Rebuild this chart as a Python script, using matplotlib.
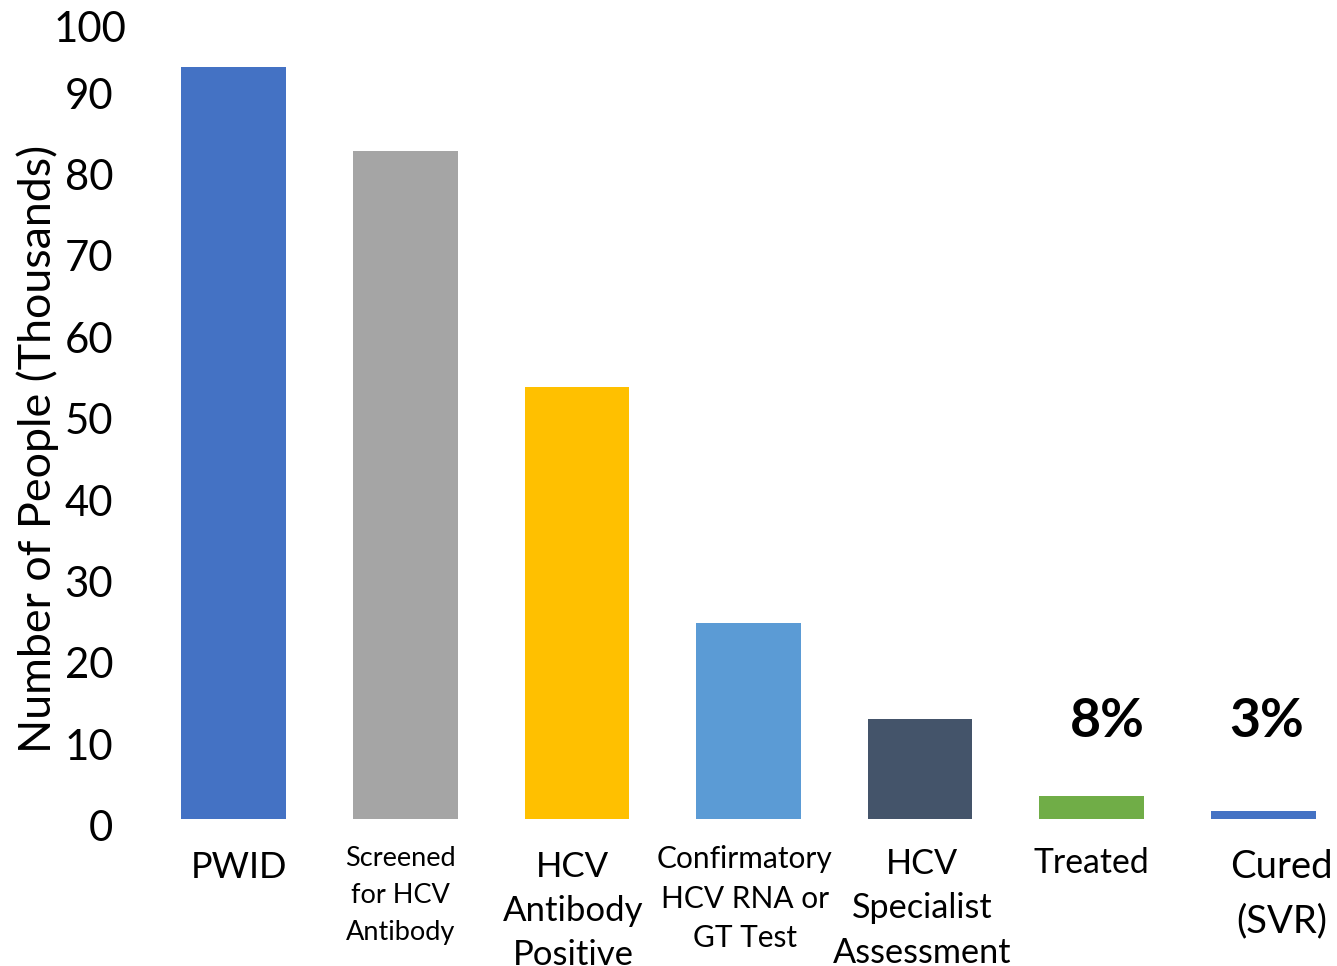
import matplotlib
matplotlib.use("Agg")
import matplotlib.pyplot as plt
from matplotlib.transforms import ScaledTranslation, blended_transform_factory

# ---- data -------------------------------------------------------------
categories = [
    "PWID",
    "Screened\nfor HCV\nAntibody",
    "HCV\nAntibody\nPositive",
    "Confirmatory\nHCV RNA or\nGT Test",
    "HCV\nSpecialist\nAssessment",
    "Treated",
    "Cured\n(SVR)",
]
people_thousands = [92.4, 82.0, 53.0, 24.0, 12.25, 2.83, 0.95]
bar_colors = ["#4472C4", "#A5A5A5", "#FFC000", "#5B9BD5", "#44546A", "#70AD47", "#4472C4"]
y_ticks = [0, 10, 20, 30, 40, 50, 60, 70, 80, 90, 100]
pct_bars = [5, 6]
pct_labels = ["8%", "3%"]

# ---- styling ----------------------------------------------------------
FONT = "Lato"
W, H, DPI = 1337, 966, 100
ASC = 0.85                                      # 'lp' ascent as fraction of em
label_sizes = [26.0, 19.5, 25.0, 21.5, 24.7, 24.3, 27.5]
label_gap = [0, 36.5, 43.0, 38.0, 43.5, 0, 53.0]   # px between baselines
label_dx = [5, -5, -4, -3.5, 2, 0, 18]          # px shift from bar centre
label_base = [881.8, 869.2, 880.5, 870.8, 876.8, 875.2, 881.8]  # first baseline, px from top
pct_dx = [16, 3]

plt.rcParams["font.family"] = [FONT, "DejaVu Sans"]

fig = plt.figure(figsize=(W / DPI, H / DPI), dpi=DPI)
ax_left, ax_right = 147.9, W
ax_top, ax_bottom = 4.7, 818.7
ax = fig.add_axes([ax_left / W, (H - ax_bottom) / H,
                   (ax_right - ax_left) / W, (ax_bottom - ax_top) / H])

x = list(range(len(categories)))
ax.bar(x, people_thousands, width=0.609, color=bar_colors, zorder=2)

ax.set_xlim(-0.5, (W - 233.7) / 171.6)
ax.set_ylim(0, 100)
for s in ax.spines.values():
    s.set_visible(False)

# y axis ticks
ax.set_yticks(y_ticks)
ax.set_yticklabels([str(v) for v in y_ticks])
ax.tick_params(axis="y", length=0, pad=25.1, labelsize=30.2)
ax.set_xticks([])
for lab, val in zip(ax.get_yticklabels(), y_ticks):
    if val == 100:
        off = ScaledTranslation(13 / DPI, -22.3 / DPI, fig.dpi_scale_trans)
    else:
        off = ScaledTranslation(0, -7 / DPI, fig.dpi_scale_trans)
    lab.set_transform(lab.get_transform() + off)

ax.set_ylabel("Number of People (Thousands)", fontsize=32.2, va="center")
ax.yaxis.set_label_coords((38 - ax_left) / (ax_right - ax_left),
                          (H - 449 - (H - ax_bottom)) / (ax_bottom - ax_top))

# category labels under each bar
under = blended_transform_factory(ax.transData, ax.transAxes)
for i, lab in enumerate(categories):
    em = label_sizes[i] * DPI / 72
    top = label_base[i] - ASC * em
    spacing = label_gap[i] / (ASC * em) if label_gap[i] else 1.0
    off = ScaledTranslation(label_dx[i] / DPI, -(top - ax_bottom) / DPI,
                            fig.dpi_scale_trans)
    ax.text(x[i], 0, lab, transform=under + off, ha="center", va="top",
            fontsize=label_sizes[i], linespacing=spacing,
            multialignment="center", color="black")

# percentage annotations
for j, (bi, txt) in enumerate(zip(pct_bars, pct_labels)):
    off = ScaledTranslation(pct_dx[j] / DPI, 0, fig.dpi_scale_trans)
    ax.text(x[bi], 10.07, txt, transform=ax.transData + off, ha="center",
            va="baseline", fontsize=38.5, fontweight="bold", color="black")

fig.savefig("out.png", dpi=DPI)
